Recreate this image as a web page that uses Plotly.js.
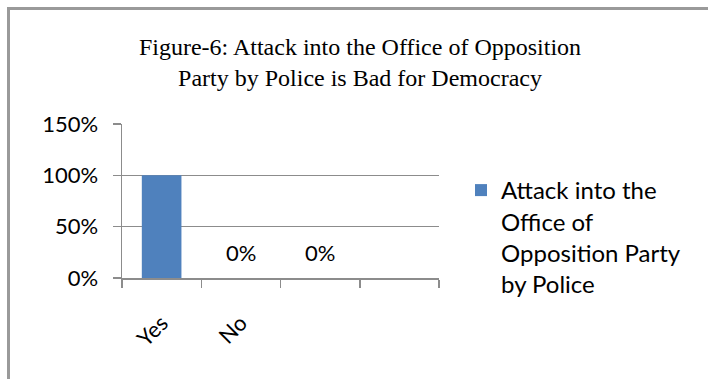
<!DOCTYPE html>
<html>
<head>
<meta charset="utf-8">
<script src="https://cdn.plot.ly/plotly-3.0.1.min.js"></script>
<style>
  html, body { margin: 0; padding: 0; background: #fff; }
  #wrap { position: relative; width: 708px; height: 379px; overflow: hidden; }
  #chart { position: absolute; left: 0; top: 0; width: 708px; height: 379px; }
  #frame { position: absolute; left: 7px; top: 7px; width: 760px; height: 420px;
           border: 3px solid #9a9a9a; box-sizing: border-box; pointer-events: none; }
</style>
</head>
<body>
<div id="wrap">
  <div id="chart"></div>
  <div id="frame"></div>
</div>
<script>
// Data
const categories = ['Yes', 'No', 'c3', 'c4'];
const tickLabels = ['Yes', 'No', '', ''];
const values = [1.0, 0, 0, null];
const dataLabels = ['', '0%', '0%', ''];
const seriesName = 'Attack into the<br>Office of<br>Opposition Party<br>by Police';
const titleText = 'Figure-6: Attack into the Office of Opposition<br>Party by Police is Bad for Democracy';

const tickFont = { family: 'Lato, "Open Sans", sans-serif', size: 22, color: '#000' };
const gridColor = '#8c8c8c';

const trace = {
  type: 'bar',
  x: categories,
  y: values,
  name: seriesName,
  marker: { color: '#4f81bd' },
  width: 0.5,
  showlegend: true,
  hoverinfo: 'none'
};

const annotations = categories.map((c, i) => ({
  x: c, y: values[i] === null ? 0 : values[i],
  xref: 'x', yref: 'y',
  text: dataLabels[i],
  showarrow: false,
  yshift: 26,
  font: tickFont
})).filter(a => a.text !== '');

const layout = {
  width: 708, height: 379,
  margin: { l: 122, r: 269, t: 124, b: 101, pad: 0 },
  paper_bgcolor: '#fff',
  plot_bgcolor: '#fff',
  title: {
    text: titleText,
    font: { family: '"Liberation Serif", "Times New Roman", serif', size: 24, color: '#000' },
    x: 360 / 708, xanchor: 'center', xref: 'container',
    y: 1 - 55 / 379, yanchor: 'top', yref: 'container'
  },
  xaxis: {
    type: 'category',
    tickmode: 'array',
    tickvals: categories,
    ticktext: tickLabels,
    tickangle: -45,
    tickson: 'boundaries',
    ticks: 'outside', ticklen: 8, tickwidth: 1.5, tickcolor: gridColor,
    ticklabelstandoff: 22,
    showline: true, linecolor: gridColor, linewidth: 1.5,
    showgrid: false,
    tickfont: tickFont,
    range: [-0.5, 3.5],
    fixedrange: true
  },
  yaxis: {
    range: [0, 1.5],
    tickmode: 'linear', tick0: 0, dtick: 0.5,
    tickformat: '.0%',
    ticks: 'outside', ticklen: 8, tickwidth: 1.5, tickcolor: gridColor,
    ticklabelstandoff: 10,
    showline: true, linecolor: gridColor, linewidth: 1.5,
    showgrid: true, gridcolor: gridColor, gridwidth: 1.5,
    zeroline: false,
    tickfont: tickFont,
    fixedrange: true
  },
  legend: {
    x: 461 / 708, xref: 'container', xanchor: 'left',
    y: 1 - 168 / 379, yref: 'container', yanchor: 'top',
    valign: 'top',
    font: { family: 'Lato, "Open Sans", sans-serif', size: 24, color: '#000' },
    itemwidth: 30,
    bgcolor: 'rgba(0,0,0,0)'
  },
  annotations: annotations,
  bargap: 0.5
};

Plotly.newPlot('chart', [trace], layout, { displayModeBar: false, staticPlot: true });
</script>
</body>
</html>
